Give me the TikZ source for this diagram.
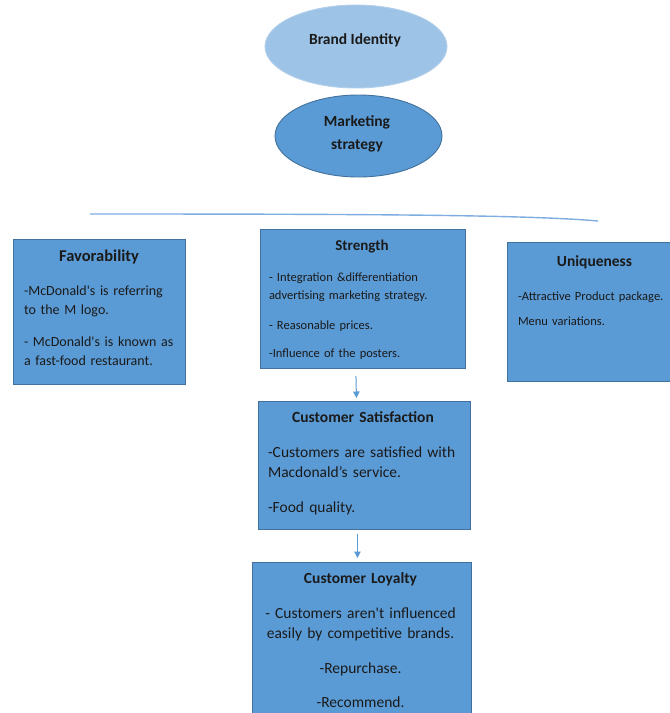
\documentclass[tikz,border=0pt]{standalone}
\usepackage{fontspec}
\setmainfont{Carlito}
\usetikzlibrary{shapes.geometric,arrows.meta}

\definecolor{boxfill}{HTML}{5B9BD5}
\definecolor{boxedge}{HTML}{41719C}
\definecolor{lightfill}{HTML}{9DC3E6}
\definecolor{lightedge}{HTML}{B4CFEA}
\definecolor{linecol}{HTML}{7EAEE0}
\definecolor{inkcol}{HTML}{1A1A1A}

\tikzset{
  box/.style={draw=boxedge, fill=boxfill, line width=0.9pt, rectangle,
    anchor=north west, inner sep=0pt},
  txt/.style={anchor=north, inner sep=0pt, align=left, text=inkcol},
  oval/.style={ellipse, inner sep=0pt, line width=0.9pt},
  flow/.style={draw=boxfill, line width=1pt, -{Triangle[length=6.5pt,width=6.5pt]}},
}
\newcommand{\boxtitle}[2]{{\centering\fontsize{#1}{#1}\selectfont\bfseries #2\par}}
\newcommand{\sq}{\textquotesingle}

\begin{document}
\begin{tikzpicture}[x=1pt, y=-1pt]
  \useasboundingbox (0,0) rectangle (670,713);

  % top ovals
  \node[oval, draw=lightedge, fill=lightfill, minimum width=182pt, minimum height=83pt]
    (brand) at (356,46.5) {};
  \node[text=inkcol, font=\fontsize{15.5}{19}\selectfont\bfseries] (brandtxt) at (355,40) {Brand Identity};
  \node[oval, draw=boxedge, fill=boxfill, minimum width=167pt, minimum height=82pt]
    (mkt) at (358.5,136) {};
  \node[text=inkcol, align=center, font=\fontsize{15.5}{23}\selectfont\bfseries] (mkttxt) at (357,133.5) {Marketing\\strategy};

  % divider
  \coordinate (lineL) at (90,214);
  \coordinate (lineR) at (598,221);
  \draw[linecol, line width=1.4pt] (lineL) .. controls (380,214) and (530,215) .. (lineR);

  % boxes
  \node[box, minimum width=172pt, minimum height=145pt] (fav) at (13,239) {};
  \node[box, minimum width=205pt, minimum height=139pt] (str) at (260,229) {};
  \node[box, minimum width=164pt, minimum height=139pt] (uni) at (507,242) {};
  \node[box, minimum width=212pt, minimum height=128pt] (sat) at (258,401) {};
  \node[box, minimum width=219pt, minimum height=160pt] (loy) at (252,562) {};

  % texts
  \node[txt, text width=150pt, font=\fontsize{14}{19}\selectfont] (favtxt) at (99,249.5) {%
    \boxtitle{16.5}{Favorability}\vspace{15pt}
    -McDonald\sq s is referring\\to the M logo.\par\vspace{13pt}
    - McDonald\sq s is known as\\a fast-food restaurant.};

  \node[txt, text width=186pt, font=\fontsize{12.5}{18}\selectfont] (strtxt) at (362,239.5) {%
    \boxtitle{15}{Strength}\vspace{13pt}
    - Integration \&differentiation\\advertising marketing strategy.\par\vspace{12pt}
    - Reasonable prices.\par\vspace{10pt}
    -Influence of the posters.};

  \node[txt, text width=153pt, font=\fontsize{12.5}{15}\selectfont] (unitxt) at (594.5,255.5) {%
    \boxtitle{15.5}{Uniqueness}\vspace{18.5pt}
    -Attractive Product package.\par\vspace{10pt}
    Menu variations.};

  \node[txt, text width=190pt, font=\fontsize{15.5}{20}\selectfont] (sattxt) at (363,411.6) {%
    \boxtitle{15.5}{Customer Satisfaction}\vspace{14.5pt}
    \mbox{-Customers are satisfied with}\\Macdonald’s service.\par\vspace{15pt}
    -Food quality.};

  \node[txt, text width=210pt, align=center, font=\fontsize{15.5}{20}\selectfont] (loytxt) at (360.5,572.6) {%
    {\bfseries Customer Loyalty\par}\vspace{14.5pt}
    - Customers aren\sq t influenced\\easily by competitive brands.\par\vspace{15pt}
    -Repurchase.\par\vspace{14.5pt}
    -Recommend.};

  % arrows
  \draw[flow] ([xshift=-7pt,yshift=-7pt]str.south) -- ([xshift=-8pt,yshift=3pt]sat.north);
  \draw[flow] ([xshift=-7pt,yshift=-4pt]sat.south) -- ([xshift=-4.5pt,yshift=4pt]loy.north);
\end{tikzpicture}
\end{document}
